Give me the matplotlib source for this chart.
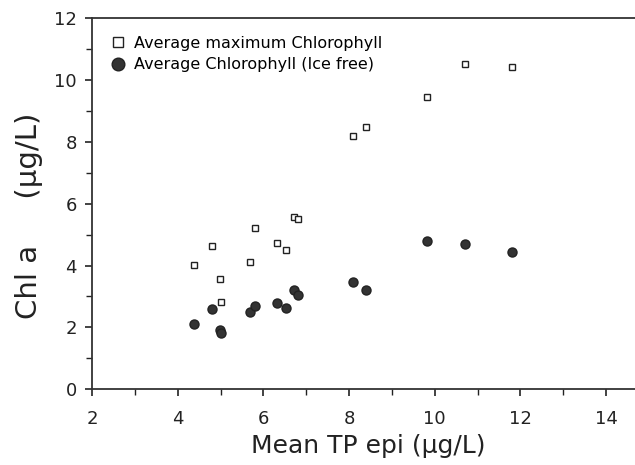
import numpy as np
import matplotlib
matplotlib.use("Agg")
import matplotlib.pyplot as plt
from matplotlib.ticker import MultipleLocator

# Mean TP epi (ug/L) for each lake
tp = [4.37, 4.80, 4.99, 5.01, 5.68, 5.80, 6.31, 6.52, 6.72, 6.80, 8.10, 8.40, 9.82, 10.70, 11.80]
# Average maximum chlorophyll
chl_max = [4.01, 4.64, 3.56, 2.81, 4.12, 5.20, 4.73, 4.50, 5.58, 5.52, 8.19, 8.49, 9.46, 10.52, 10.41]
# Average chlorophyll (ice free)
chl_ice = [2.10, 2.60, 1.91, 1.82, 2.50, 2.69, 2.80, 2.64, 3.22, 3.04, 3.47, 3.20, 4.79, 4.69, 4.44]

plt.rcParams['font.family'] = 'DejaVu Sans'

fig = plt.figure(figsize=(6.35, 4.65), dpi=100)
ax = fig.add_axes([0.145, 0.163, 0.87, 0.798])

ax.plot(tp, chl_max, linestyle='none', marker='s', markersize=5,
        markerfacecolor='white', markeredgecolor='#222222', markeredgewidth=1.0,
        label='Average maximum Chlorophyll')
ax.plot(tp, chl_ice, linestyle='none', marker='o', markersize=6.5,
        markerfacecolor='#333333', markeredgecolor='#222222',
        label='Average Chlorophyll (Ice free)')

ax.set_xlim(2, 14.9)
ax.set_ylim(0, 12)
ax.xaxis.set_major_locator(MultipleLocator(2))
ax.xaxis.set_minor_locator(MultipleLocator(1))
ax.yaxis.set_major_locator(MultipleLocator(2))
ax.yaxis.set_minor_locator(MultipleLocator(1))
ax.tick_params(which='both', direction='out', labelsize=13, colors='#222222')
ax.tick_params(which='major', length=5, width=1.2)
ax.tick_params(which='minor', length=4, width=1.0)
ax.tick_params(axis='x', pad=10)
ax.tick_params(axis='y', pad=6)
for s in ax.spines.values():
    s.set_linewidth(1.3)
    s.set_color('#333333')

ax.set_xlabel('Mean TP epi (µg/L)', fontsize=18, color='#222222', labelpad=4)
fig.text(0.045, 0.535, 'Chl a     (µg/L)', rotation=90, fontsize=21,
         color='#222222', ha='center', va='center')

leg = ax.legend(loc='upper left', frameon=False, fontsize=11.5,
                handletextpad=0.5, borderaxespad=0.6, labelspacing=0.4,
                handlelength=1.0, borderpad=0.5, markerscale=1.4)

fig.savefig('out.png', dpi=100)
